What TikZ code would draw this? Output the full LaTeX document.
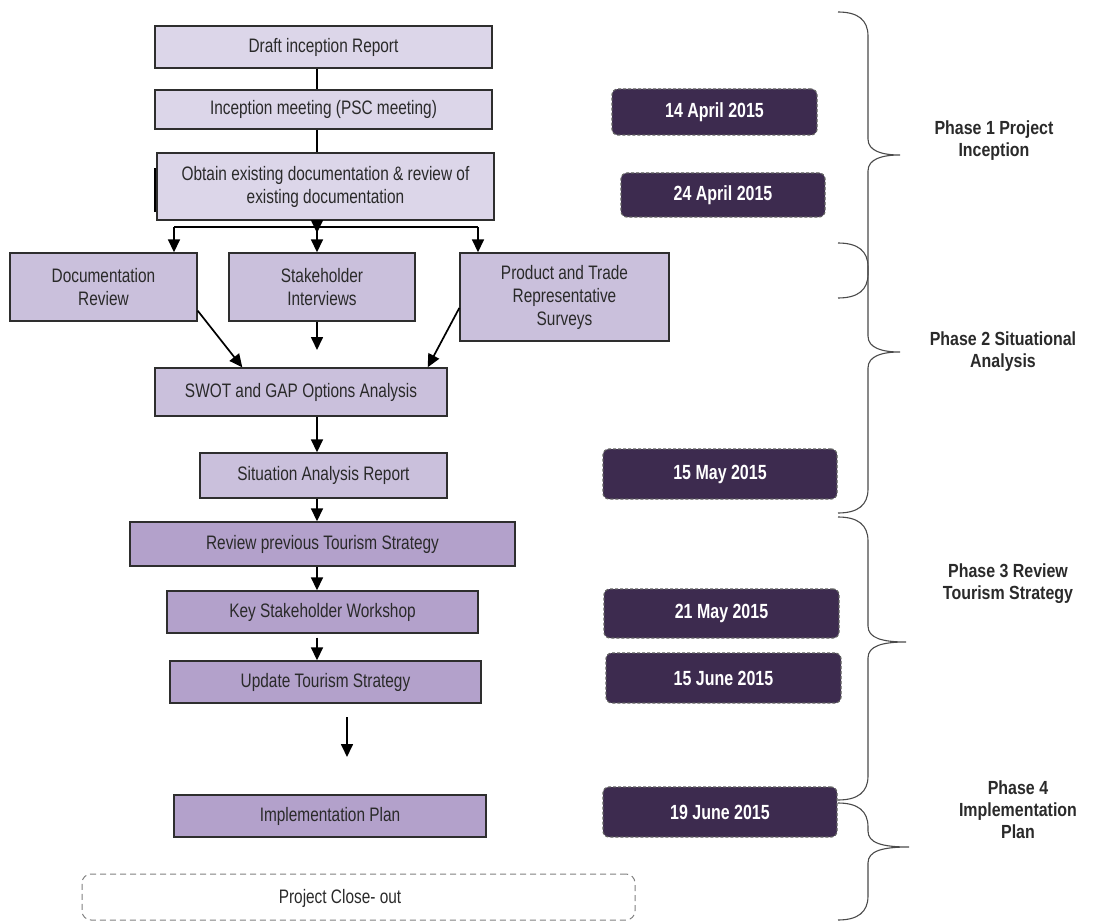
\documentclass[tikz,border=0pt]{standalone}
\usepackage{fontspec}
\setmainfont{Liberation Sans}
\newfontfamily\boxfont[FakeStretch=0.79]{Liberation Sans}
\newfontfamily\datefont[FakeStretch=0.78]{Liberation Sans}
\newfontfamily\phasefont[FakeStretch=0.84]{Liberation Sans}
\usetikzlibrary{arrows.meta,calc}
\definecolor{fillA}{HTML}{DCD6E9}
\definecolor{fillB}{HTML}{CAC0DC}
\definecolor{fillC}{HTML}{B3A1CB}
\definecolor{dateclr}{HTML}{3D2B4F}
\definecolor{boxline}{HTML}{2E2E2E}
\definecolor{textgray}{HTML}{2A2A2A}
\definecolor{bracegray}{HTML}{4A4A4A}
\tikzset{
  flowbox/.style={draw=boxline, line width=1.4pt, align=center, inner sep=0pt,
    text=textgray, font=\boxfont\fontsize{19.5}{23}\selectfont},
  boxA/.style={flowbox, fill=fillA},
  boxB/.style={flowbox, fill=fillB},
  boxC/.style={flowbox, fill=fillC},
  datebox/.style={draw=gray!75!black, dash pattern=on 3pt off 2pt, line width=1.2pt,
    rounded corners=6pt, fill=dateclr, text=white, inner sep=0pt,
    font=\datefont\bfseries\fontsize{20.5}{24}\selectfont},
  phaselabel/.style={align=center, text=textgray,
    font=\phasefont\bfseries\fontsize{19}{22}\selectfont},
  closebox/.style={draw=gray, dash pattern=on 6pt off 4pt, line width=1pt,
    rounded corners=9pt, inner sep=0pt},
  closetext/.style={text=textgray, font=\boxfont\fontsize{19.5}{23}\selectfont},
  conn/.style={draw=black, line width=1.7pt},
  arr/.style={conn, -{Triangle[length=13pt,width=12pt]}},
  bracestyle/.style={draw=bracegray, line width=1.1pt}
}
\newcommand\phasebrace[4]{%
  \draw[bracestyle] (838,#1) .. controls (858,#1) and (868,#1+8) .. (868,#1+24)
    -- (868,#2-16) .. controls (868,#2-4) and (882,#2) .. (#4,#2)
    .. controls (882,#2) and (868,#2+4) .. (868,#2+16)
    -- (868,#3-24) .. controls (868,#3-8) and (858,#3) .. (838,#3);}
\begin{document}
\begin{tikzpicture}[x=1pt,y=-1pt]
\useasboundingbox (0,0) rectangle (1109,923);

% Phase 1 boxes
\node[boxA, minimum width=337pt, minimum height=42pt] (d1) at (323.5,47) {Draft inception Report};
\node[boxA, minimum width=337pt, minimum height=39pt] (d2) at (323.5,109.5) {Inception meeting (PSC meeting)};
\node[boxA, minimum width=337pt, minimum height=67pt] (d3) at (325.5,186.5) {Obtain existing documentation \& review of\\existing documentation};
\draw[conn, line width=2pt] (155,168) -- (155,212);

% Phase 2 boxes
\node[boxB, minimum width=187pt, minimum height=68pt] (a1) at (103.5,287) {Documentation\\Review};
\node[boxB, minimum width=186pt, minimum height=68pt] (a2) at (322,287) {Stakeholder\\Interviews};
\node[boxB, minimum width=209pt, minimum height=88pt] (a3) at (564.5,297) {Product and Trade\\Representative\\Surveys};
\node[boxB, minimum width=292pt, minimum height=48pt] (s1) at (301,392) {SWOT and GAP Options Analysis};
\node[boxB, minimum width=247pt, minimum height=45pt] (s2) at (323.5,475.5) {Situation Analysis Report};

% Phase 3/4 boxes
\node[boxC, minimum width=385pt, minimum height=44pt] (r1) at (322.5,544) {Review previous Tourism Strategy};
\node[boxC, minimum width=311pt, minimum height=42pt] (r2) at (322.5,612) {Key Stakeholder Workshop};
\node[boxC, minimum width=311pt, minimum height=42pt] (r3) at (325.5,682) {Update Tourism Strategy};
\node[boxC, minimum width=312pt, minimum height=42pt] (p1) at (330,816) {Implementation Plan};
\node[closebox, minimum width=553pt, minimum height=46pt] (pc) at (358.5,897) {};
\node[closetext] (pct) at (340,898) {Project Close- out};

% Date boxes
\node[datebox, minimum width=205pt, minimum height=46pt] (t1) at (714.5,112) {14 April 2015};
\node[datebox, minimum width=204pt, minimum height=44pt] (t2) at (723,195) {24 April 2015};
\node[datebox, minimum width=234pt, minimum height=50pt] (t3) at (720,474) {15 May 2015};
\node[datebox, minimum width=235pt, minimum height=49pt] (t4) at (721.5,613.5) {21 May 2015};
\node[datebox, minimum width=235pt, minimum height=50pt] (t5) at (723.5,678) {15 June 2015};
\node[datebox, minimum width=234pt, minimum height=50pt] (t6) at (720,812) {19 June 2015};

% Phase labels
\node[phaselabel] (ph1) at (994,141) {Phase 1 Project\\Inception};
\node[phaselabel] (ph2) at (1003,352) {Phase 2 Situational\\Analysis};
\node[phaselabel] (ph3) at (1008,584) {Phase 3 Review\\Tourism Strategy};
\node[phaselabel] (ph4) at (1018,810) {Phase 4\\Implementation\\Plan};

% Braces
\phasebrace{12}{155}{298}{900}
\phasebrace{243}{352}{513}{900}
\phasebrace{517}{642}{800}{906}
\phasebrace{803}{847}{920}{909}

% Connectors
\coordinate (cx) at (317,0);
\coordinate (bl) at (174,227);
\coordinate (br) at (478,227);
\coordinate (a2end) at (317,350);
\coordinate (fa) at (347,717);
\coordinate (fb) at (347,757);
\draw[conn] (d1.south -| cx) -- (d2.north -| cx);
\draw[conn] (d2.south -| cx) -- (d3.north -| cx);
\draw[arr] (d3.south -| cx) -- ($(cx |- bl)+(0,6)$);
\draw[conn] (bl) -- (br);
\draw[arr] (bl) -- (bl |- a1.north);
\draw[arr] (cx |- bl) -- (cx |- a2.north);
\draw[arr] (br) -- (br |- a3.north);
\draw[arr] ($(a1.south east)+(0,-11)$) -- ($(s1.north west)+(88,0)$);
\draw[arr] (a2.south -| cx) -- (a2end);
\draw[arr] ($(a3.west)+(0,11)$) -- ($(s1.north east)+(-20,0)$);
\draw[arr] (s1.south -| cx) -- (s2.north -| cx);
\draw[arr] (s2.south -| cx) -- (r1.north -| cx);
\draw[arr] (r1.south -| cx) -- (r2.north -| cx);
\draw[arr] ($(r2.south -| cx)+(0,4)$) -- (r3.north -| cx);
\draw[arr] (fa) -- (fb);
\end{tikzpicture}
\end{document}
